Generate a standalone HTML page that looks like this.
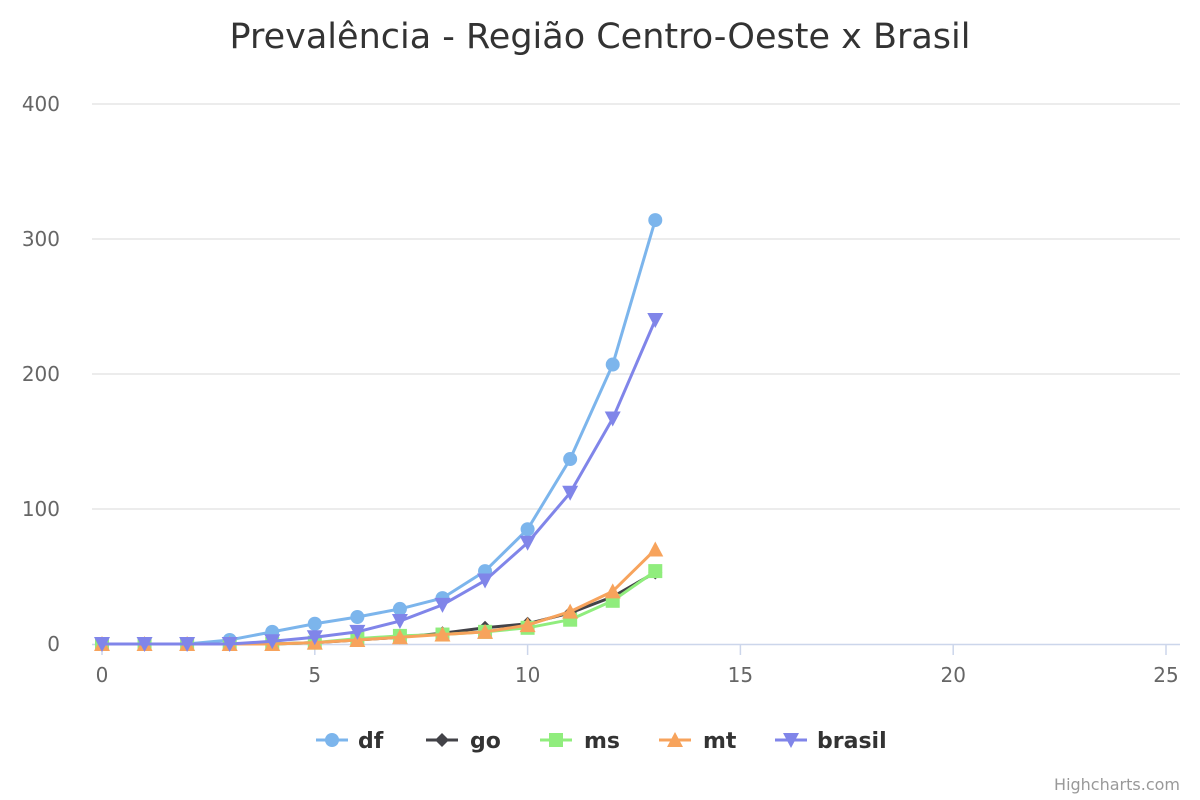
<!DOCTYPE html>
<html><head><meta charset="utf-8"><style>
html,body{margin:0;padding:0;background:#fff;width:1200px;height:800px;overflow:hidden}
svg text{font-family:"DejaVu Sans","Liberation Sans",sans-serif}
</style></head><body>
<svg id="chart" width="1200" height="800" xmlns="http://www.w3.org/2000/svg">
<rect width="1200" height="800" fill="#fff"/>
<text x="600" y="48" text-anchor="middle" font-size="35" fill="#333">Prevalência - Região Centro-Oeste x Brasil</text>
<g id="grid"></g><g id="axes"></g><g id="series"></g><g id="legend"></g>
<text x="1180" y="790" text-anchor="end" font-size="16" fill="#999">Highcharts.com</text>
</svg>
<script>
const xCats=[0,1,2,3,4,5,6,7,8,9,10,11,12,13];
const dfVals=[0,0,0,3,9,15,20,26,34,54,85,137,207,314];
const goVals=[0,0,0,0,0,1,3,5,8,12,15,23,35,53];
const msVals=[0,0,0,0,0,1,4,6,7,9,12,18,32,54];
const mtVals=[0,0,0,0,0,1,3,5,7,9,14,24,39,70];
const brasilVals=[0,0,0,0,2,5,9,17,29,47,75,112,167,240];
const yTicks=[0,100,200,300,400];
const xTicks=[0,5,10,15,20,25];
const NS="http://www.w3.org/2000/svg";
const X=v=>102+v*(1064/25), Y=v=>644-v*1.35;
function mk(tag,attrs,parent){const e=document.createElementNS(NS,tag);for(const k in attrs)e.setAttribute(k,attrs[k]);parent.appendChild(e);return e;}
const grid=document.getElementById('grid'),axes=document.getElementById('axes'),ser=document.getElementById('series'),leg=document.getElementById('legend');
yTicks.forEach(t=>{
 if(t>0){const l=mk('line',{x1:92,x2:1180,y1:Y(t),y2:Y(t),stroke:'#e6e6e6','stroke-width':1.5},grid);
 
 }
 const tx=mk('text',{x:60,y:Y(t)+7,'text-anchor':'end','font-size':20,fill:'#666'},axes);tx.textContent=t;
 
 
});
const ax=mk('line',{x1:92,x2:1180,y1:644.5,y2:644.5,stroke:'#ccd6eb','stroke-width':1.5},axes);


xTicks.forEach(t=>{
 const tk=mk('line',{x1:X(t),x2:X(t),y1:645,y2:655,stroke:'#ccd6eb','stroke-width':1.5},axes);
 
 
 const tx=mk('text',{x:X(t),y:682,'text-anchor':'middle','font-size':20,fill:'#666'},axes);tx.textContent=t;
 
 
});
function marker(type,cx,cy,color,g){
 if(type==='circle')return mk('circle',{cx,cy,r:7,fill:color},g);
 if(type==='diamond')return mk('path',{d:`M${cx} ${cy-7}L${cx+7} ${cy}L${cx} ${cy+7}L${cx-7} ${cy}Z`,fill:color},g);
 if(type==='square')return mk('rect',{x:cx-7,y:cy-7,width:14,height:14,fill:color},g);
 if(type==='up')return mk('path',{d:`M${cx} ${cy-8}L${cx+8} ${cy+7}L${cx-8} ${cy+7}Z`,fill:color},g);
 return mk('path',{d:`M${cx-8} ${cy-7}L${cx+8} ${cy-7}L${cx} ${cy+8}Z`,fill:color},g);
}
const seriesList=[
 {n:'df',v:dfVals,c:'#7cb5ec',m:'circle',lx:316,tx:358},
 {n:'go',v:goVals,c:'#434348',m:'diamond',lx:426,tx:470},
 {n:'ms',v:msVals,c:'#90ed7d',m:'square',lx:540,tx:584},
 {n:'mt',v:mtVals,c:'#f7a35c',m:'up',lx:659,tx:703},
 {n:'brasil',v:brasilVals,c:'#8085e9',m:'down',lx:775,tx:817}];
seriesList.forEach(s=>{
 const g=mk('g',{},ser);
 
 
 const p=mk('path',{d:s.v.map((v,i)=>(i?'L':'M')+X(xCats[i])+' '+Y(v)).join(''),fill:'none',stroke:s.c,'stroke-width':3,'stroke-linejoin':'round'},g);
 
 
 s.v.forEach((v,i)=>{const m=marker(s.m,X(xCats[i]),Y(v),s.c,g);
  
  });
 const lg=mk('g',{},leg);
 
 
 mk('line',{x1:s.lx,x2:s.lx+32,y1:740,y2:740,stroke:s.c,'stroke-width':3},lg);
 marker(s.m,s.lx+16,740,s.c,lg);
 const t=mk('text',{x:s.tx,y:748,'font-size':22,'font-weight':'bold',fill:'#333'},lg);t.textContent=s.n;
});
</script>
</body></html>
